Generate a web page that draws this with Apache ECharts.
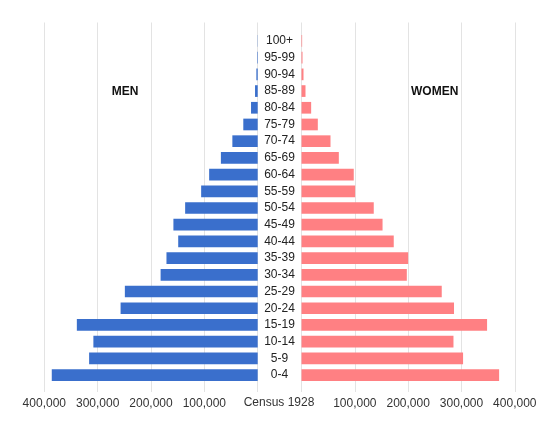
<!DOCTYPE html>
<html>
<head>
<meta charset="utf-8">
<script src="https://cdn.jsdelivr.net/npm/echarts@6/dist/echarts.min.js"></script>
<style>
html,body{margin:0;padding:0;background:#fff;}
#chart{width:556px;height:423px;}
</style>
</head>
<body>
<div id="chart"></div>
<script>
var ageGroups = ['0-4','5-9','10-14','15-19','20-24','25-29','30-34','35-39','40-44','45-49','50-54','55-59','60-64','65-69','70-74','75-79','80-84','85-89','90-94','95-99','100+'];
var men = [386000,316000,308000,339000,257000,249000,182000,171000,149000,158000,136000,106000,91000,69000,47500,27000,12500,5000,2500,1000,400];
var women = [370600,303000,285000,348000,286000,263000,197500,200000,173000,152000,135500,100600,98000,70000,54400,30600,18100,7500,3750,1900,1200];
var axisTicks = [0,100000,200000,300000,400000];
var sideLabels = ['MEN','WOMEN'];
var centerLabel = 'Census 1928';

var FONT = '"Liberation Sans", Arial, Helvetica, sans-serif';
var chart = echarts.init(document.getElementById('chart'), null, {renderer:'canvas'});
var axMin = axisTicks[0], axMax = axisTicks[axisTicks.length-1], axInt = axisTicks[1]-axisTicks[0];
function fmt(v){ return v === 0 ? '' : v.toLocaleString('en-US'); }

var bgX = function(gi, inv){
  return {
    gridIndex: gi, type:'value', inverse: inv, min: axMin, max: axMax, interval: axInt,
    axisLine:{show:false}, axisTick:{show:false},
    axisLabel:{show:true, formatter: fmt, color:'#333', fontSize:12, fontFamily:FONT, margin:6},
    splitLine:{show:true, lineStyle:{color:'#e3e3e3', width:1}}
  };
};
var dataX = function(gi, inv){
  return {
    gridIndex: gi, type:'value', inverse: inv, min: axMin, max: axMax, interval: axInt,
    axisLine:{show:false}, axisTick:{show:false}, axisLabel:{show:false}, splitLine:{show:false}
  };
};
var hiddenY = function(gi){
  return {gridIndex: gi, type:'category', data: ageGroups, show:false};
};

var option = {
  backgroundColor:'#fff',
  animation:false,
  grid:[
    {left:44.3, top:22.5, width:213.4, height:369.5},
    {left:301.5, top:22.5, width:213.3, height:369.5},
    {left:44.3, top:32.6, width:213.4, height:350.8},
    {left:301.5, top:32.6, width:213.3, height:350.8}
  ],
  xAxis:[bgX(0,true), bgX(1,false), dataX(2,true), dataX(3,false)],
  yAxis:[
    hiddenY(0), hiddenY(1), hiddenY(2),
    {gridIndex:3, type:'category', data: ageGroups, position:'left',
     axisLine:{show:false}, axisTick:{show:false}, splitLine:{show:false},
     axisLabel:{show:true, align:'center', margin:22, color:'#222', fontSize:12, fontFamily:FONT, interval:0}}
  ],
  series:[
    {name:'Men', type:'bar', xAxisIndex:2, yAxisIndex:2, data: men, barCategoryGap:'30%',
     itemStyle:{color:'#3a6fcc'}},
    {name:'Women', type:'bar', xAxisIndex:3, yAxisIndex:3, data: women, barCategoryGap:'30%',
     itemStyle:{color:'#ff8083'}}
  ],
  graphic:[
    {type:'text', left:null, x:125, y:91.7, style:{text: sideLabels[0], fill:'#111', font:'bold 12px '+FONT, textAlign:'center', textVerticalAlign:'middle'}},
    {type:'text', x:434.7, y:91.7, style:{text: sideLabels[1], fill:'#111', font:'bold 12px '+FONT, textAlign:'center', textVerticalAlign:'middle'}},
    {type:'text', x:279, y:403, style:{text: centerLabel, fill:'#333', font:'12px '+FONT, textAlign:'center', textVerticalAlign:'middle'}}
  ]
};
chart.setOption(option);
</script>
</body>
</html>
